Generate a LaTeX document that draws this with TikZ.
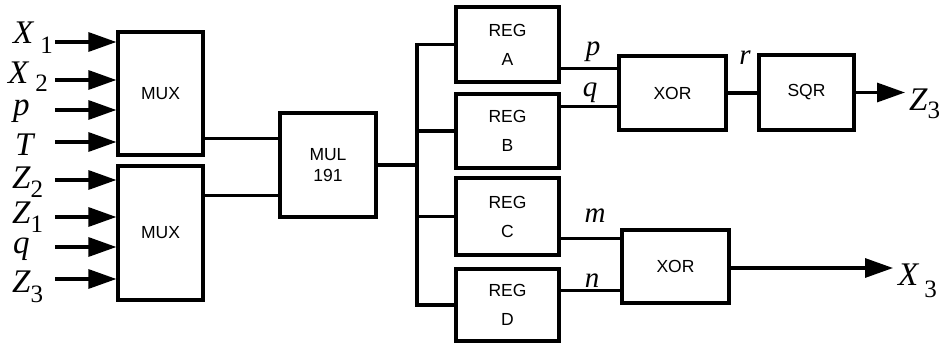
\documentclass[tikz,border=0pt]{standalone}
\usepackage{fontspec}
\setmainfont{Liberation Serif}
\setsansfont{Liberation Sans}
\usetikzlibrary{arrows.meta,calc}
\newcommand{\bigv}[1]{{\fontsize{33}{33}\selectfont\itshape #1}}
\newcommand{\subv}[2]{\raisebox{-#1pt}{\fontsize{25}{25}\selectfont #2}}
\newcommand{\midv}[1]{{\fontsize{29}{29}\selectfont\itshape #1}}
\begin{document}
\begin{tikzpicture}[x=1pt,y=-1pt,
  blk/.style={draw,line width=3.2pt,inner sep=0pt,font=\sffamily\fontsize{17.5}{21}\selectfont,align=center},
  wire/.style={line width=3.2pt},
  arr/.style={line width=3.2pt,-{Triangle[length=28pt,width=19pt]}},
  lab/.style={inner sep=0pt,anchor=base west}]
\useasboundingbox (0,0) rectangle (946,343);
% blocks
\node[blk,minimum width=85pt,minimum height=123pt] (mux1) at (160.5,93.5) {MUX};
\node[blk,minimum width=85pt,minimum height=134pt] (mux2) at (160.5,233) {MUX};
\node[blk,minimum width=96pt,minimum height=104pt] (mul) at (328,165) {MUL\\191};
\node[blk,minimum width=103pt,minimum height=75pt] (rega) at (507.5,44.5) {REG\\[8pt]A};
\node[blk,minimum width=103pt,minimum height=74pt] (regb) at (507.5,131) {REG\\[8pt]B};
\node[blk,minimum width=103pt,minimum height=77pt] (regc) at (507.5,216.5) {REG\\[8pt]C};
\node[blk,minimum width=103pt,minimum height=72pt] (regd) at (507.5,305) {REG\\[8pt]D};
\node[blk,minimum width=107pt,minimum height=74pt] (xor1) at (672.5,93) {XOR};
\node[blk,minimum width=107pt,minimum height=73pt] (xor2) at (675.5,266.5) {XOR};
\node[blk,minimum width=95pt,minimum height=75pt] (sqr) at (806.5,92.5) {SQR};
% input labels
\node[lab] (lx1) at (13,43) {\bigv{X}\hspace{7pt}\subv{10}{1}};
\node[lab] (lx2) at (8,83) {\bigv{X}\hspace{7pt}\subv{8}{2}};
\node[lab] (lp) at (13,115) {\bigv{p}};
\node[lab] (lt) at (15,155) {\bigv{T}};
\node[lab] (lz2) at (12,188) {\bigv{Z}\subv{9}{2}};
\node[lab] (lz1) at (12,223) {\bigv{Z}\subv{9}{1}};
\node[lab] (lq) at (13,253) {\bigv{q}};
\node[lab] (lz3) at (12,292) {\bigv{Z}\subv{10}{3}};
% input starts
\coordinate (i1) at (55,42);
\coordinate (i2) at (55,80);
\coordinate (i3) at (55,110);
\coordinate (i4) at (55,142);
\coordinate (i5) at (55,180);
\coordinate (i6) at (55,217);
\coordinate (i7) at (55,247);
\coordinate (i8) at (55,279);
\foreach \c/\m in {i1/mux1,i2/mux1,i3/mux1,i4/mux1,i5/mux2,i6/mux2,i7/mux2,i8/mux2}
  \draw[arr] (\c) -- (\c -| \m.west);
% mux to mul
\coordinate (o1) at ($(mux1.south east)+(0,-18)$);
\coordinate (o2) at ($(mux2.north east)+(0,31)$);
\draw[wire] (o1) -- (o1 -| mul.west);
\draw[wire] (o2) -- (o2 -| mul.west);
% bus
\coordinate (bus) at (417,165);
\draw[wire] (mul.east) -- (bus);
\draw[wire] (rega.west) -| (bus) |- (regd.west);
\draw[wire] (bus) |- (regb.west);
\draw[wire] (bus) |- (regc.west);
% reg to xor
\coordinate (ra) at ($(rega.south east)+(0,-15)$);
\coordinate (rb) at ($(regb.north east)+(0,14)$);
\coordinate (rc) at ($(regc.south east)+(0,-18)$);
\coordinate (rd) at ($(regd.north east)+(0,23)$);
\draw[wire] (ra) -- (ra -| xor1.west);
\draw[wire] (rb) -- (rb -| xor1.west);
\draw[wire] (rc) -- (rc -| xor2.west);
\draw[wire] (rd) -- (rd -| xor2.west);
\node[inner sep=0pt,anchor=base] (lp2) at (593,55) {\midv{p}};
\node[inner sep=0pt,anchor=base] (lq2) at (590,96) {\midv{q}};
\node[inner sep=0pt,anchor=base] (lm) at (595,222) {\midv{m}};
\node[inner sep=0pt,anchor=base] (ln) at (592,287) {\midv{n}};
% xor1 to sqr
\draw[wire] (xor1.east) -- (xor1.east -| sqr.west);
\node[inner sep=0pt,anchor=base] (lr) at (745,64) {\midv{r}};
% outputs
\coordinate (oz) at (905,92.5);
\coordinate (ox) at (893,268);
\draw[arr] (sqr.east) -- (oz);
\draw[arr] (xor2.east |- ox) -- (ox);
\node[lab] (lz3o) at (909,110) {\bigv{Z}\subv{8}{3}};
\node[lab] (lx3) at (898,285) {\bigv{X}\hspace{6pt}\subv{12}{3}};
\end{tikzpicture}
\end{document}
